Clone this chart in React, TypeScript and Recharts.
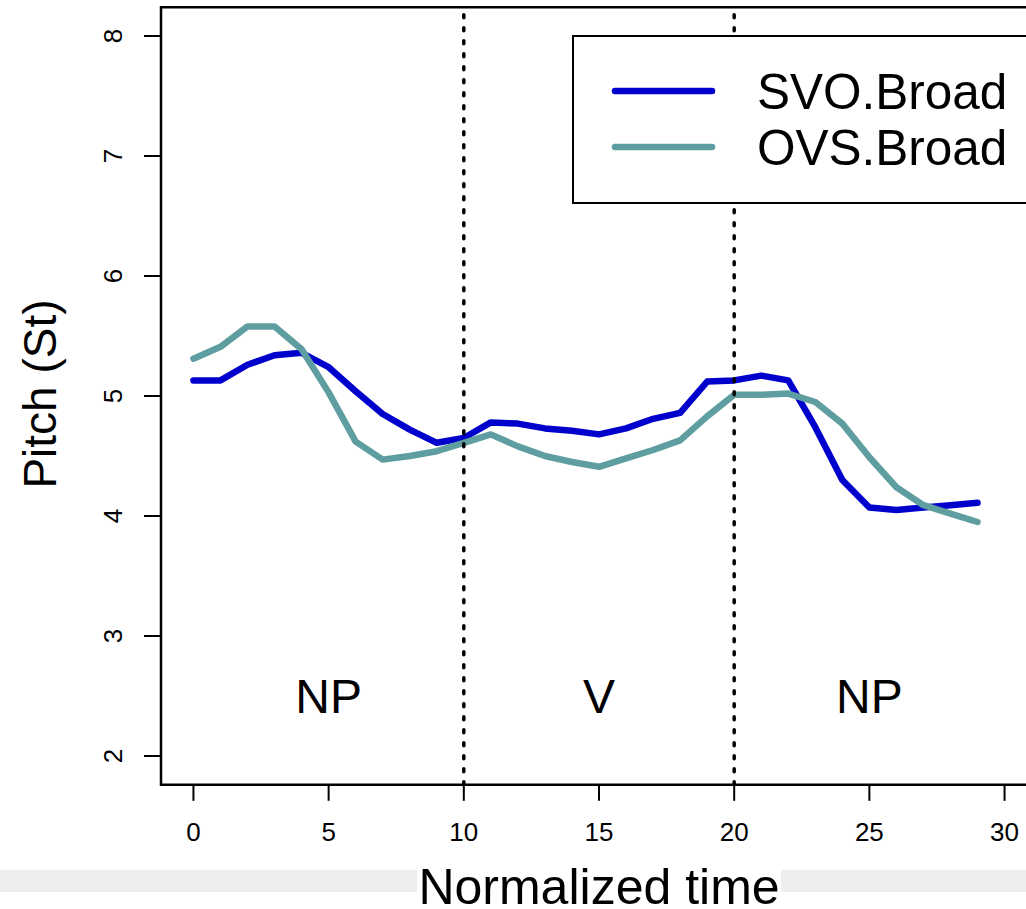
import React from 'react';
import { LineChart, Line, XAxis, YAxis, ReferenceLine, ReferenceArea, ReferenceDot, Legend } from 'recharts';

const times = [0,1,2,3,4,5,6,7,8,9,10,11,12,13,14,15,16,17,18,19,20,21,22,23,24,25,26,27,28,29];
const svoBroad = [5.13,5.13,5.26,5.34,5.36,5.24,5.04,4.85,4.72,4.61,4.65,4.78,4.77,4.73,4.71,4.68,4.73,4.81,4.86,5.12,5.13,5.17,5.13,4.74,4.30,4.07,4.05,4.07,4.09,4.11];
const ovsBroad = [5.31,5.41,5.58,5.58,5.39,5.03,4.62,4.47,4.50,4.54,4.61,4.68,4.58,4.50,4.45,4.41,4.48,4.55,4.63,4.83,5.01,5.01,5.02,4.95,4.77,4.49,4.24,4.09,4.02,3.95];
const xTicks = [0,5,10,15,20,25,30];
const yTicks = [2,3,4,5,6,7,8];
const segmentBounds = [10,20];
const segmentLabels = [{ x: 5, label: 'NP' }, { x: 15, label: 'V' }, { x: 25, label: 'NP' }];
const seriesNames = ['SVO.Broad', 'OVS.Broad'];
const seriesColors = ['#0000CD', '#5F9EA0'];

const data = times.map((t, i) => ({ t, svo: svoBroad[i], ovs: ovsBroad[i] }));

const FONT = '"Liberation Sans", Arial, Helvetica, sans-serif';

const XTick = (props: any) => (
  <text x={props.x} y={841} textAnchor="middle" fontSize={26} fontFamily={FONT} fill="#000">
    {props.payload.value}
  </text>
);

const YTick = (props: any) => (
  <text x={122} y={props.y} transform={`rotate(-90, 122, ${props.y})`} textAnchor="middle" fontSize={26} fontFamily={FONT} fill="#000">
    {props.payload.value}
  </text>
);

const LegendBox = () => (
  <svg width={470} height={170} style={{ display: 'block' }}>
    <rect x={1} y={1} width={500} height={167} fill="#fff" stroke="#000" strokeWidth={2} />
    {seriesNames.map((name, i) => (
      <g key={name}>
        <line x1={43} x2={140} y1={56 + i * 56} y2={56 + i * 56} stroke={seriesColors[i]} strokeWidth={6.5} strokeLinecap="round" />
        <text x={185} y={74 + i * 56} fontSize={49.5} fontFamily={FONT} fill="#000">{name}</text>
      </g>
    ))}
  </svg>
);

export default function App() {
  return (
    <div style={{ position: 'absolute', left: 0, top: 0, width: 1026, height: 909, overflow: 'hidden', background: '#fff' }}>
      <div style={{ position: 'absolute', left: 0, top: 0, width: 1026, height: 870, background: '#fff' }} />
      <div style={{ position: 'absolute', left: 0, top: 870, width: 1026, height: 22, background: '#eeeeee' }} />
      <div style={{ position: 'absolute', left: 0, top: 0 }}>
        <LineChart width={1050} height={909} data={data} margin={{ top: 7.2, right: 13, left: 0, bottom: 64.2 }}>
          <XAxis
            dataKey="t"
            type="number"
            domain={[-1.2, 31.2]}
            ticks={xTicks}
            allowDataOverflow
            height={60}
            axisLine={false}
            tickSize={16}
            tickLine={{ stroke: '#000', strokeWidth: 2 }}
            tick={<XTick />}
            interval={0}
            label={{
              content: () => (
                <g>
                  <rect x={417} y={870} width={364} height={22} fill="#fff" />
                  <text x={599} y={904} textAnchor="middle" fontSize={50} fontFamily={FONT} fill="#000">Normalized time</text>
                </g>
              ),
            }}
          />
          <YAxis
            type="number"
            domain={[1.76, 8.24]}
            ticks={yTicks}
            allowDataOverflow
            width={161}
            axisLine={false}
            tickSize={17}
            tickLine={{ stroke: '#000', strokeWidth: 2 }}
            tick={<YTick />}
            interval={0}
            label={{
              content: () => (
                <text x={56} y={394} transform="rotate(-90, 56, 394)" textAnchor="middle" fontSize={46} fontFamily={FONT} fill="#000">Pitch (St)</text>
              ),
            }}
          />
          <ReferenceArea x1={-1.2} x2={31.2} y1={1.76} y2={8.24} fill="none" fillOpacity={0} stroke="#000" strokeWidth={2.5} ifOverflow="visible" />
          <Line type="linear" dataKey="svo" name={seriesNames[0]} stroke={seriesColors[0]} strokeWidth={6.5} dot={false} isAnimationActive={false} strokeLinecap="round" strokeLinejoin="round" />
          <Line type="linear" dataKey="ovs" name={seriesNames[1]} stroke={seriesColors[1]} strokeWidth={6.5} dot={false} isAnimationActive={false} strokeLinecap="round" strokeLinejoin="round" />
          {segmentBounds.map((b) => (
            <ReferenceLine key={b} x={b} stroke="#000" strokeWidth={3.5} strokeDasharray="3 10" strokeLinecap="round" />
          ))}
          {segmentLabels.map((s, i) => (
            <ReferenceDot
              key={i}
              x={s.x}
              y={2.5}
              r={0}
              fill="none"
              stroke="none"
              label={{ value: s.label, position: 'center', fontSize: 48, fontFamily: FONT, fill: '#000' }}
            />
          ))}
          <Legend
            layout="horizontal"
            verticalAlign="middle"
            align="center"
            wrapperStyle={{ position: 'absolute', left: 572, top: 35, width: 470, height: 170 }}
            content={() => <LegendBox />}
          />
        </LineChart>
      </div>
    </div>
  );
}
